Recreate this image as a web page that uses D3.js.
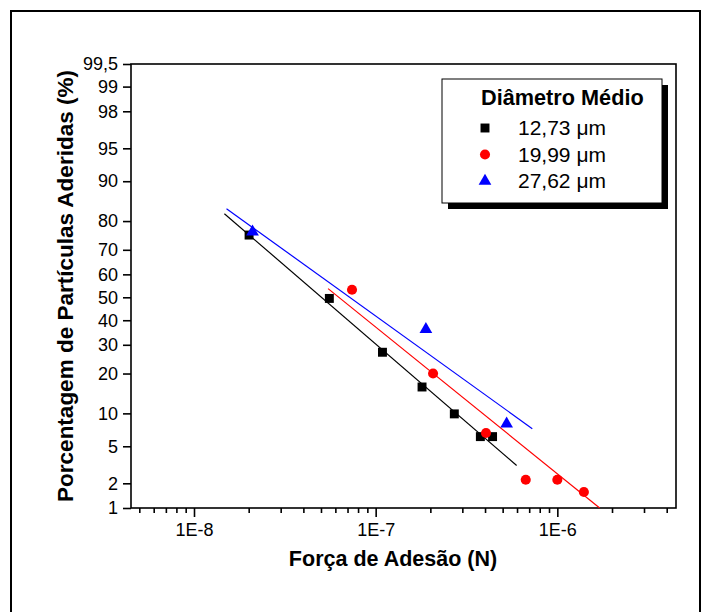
<!DOCTYPE html>
<html>
<head>
<meta charset="utf-8">
<script src="https://cdn.jsdelivr.net/npm/d3@7"></script>
<style>
  html, body { margin: 0; padding: 0; background: #fff; }
  svg { display: block; font-family: "Liberation Sans", Arial, sans-serif; }
</style>
</head>
<body>
<svg id="chart" width="705" height="612"></svg>
<script>
// Adhesion force (N) and cumulative percentage of adhered particles
const seriesNames = ["12,73 \u03bcm", "19,99 \u03bcm", "27,62 \u03bcm"];
const seriesColors = ["#000000", "#ff0000", "#0000ff"];
const seriesShapes = ["square", "circle", "triangle"];

const force1273 = [2.01e-8, 5.56e-8, 1.09e-7, 1.80e-7, 2.71e-7, 3.77e-7, 4.40e-7];
const pct1273   = [75.4, 49.5, 27.2, 16.1, 9.9, 6.2, 6.2];

const force1999 = [7.41e-8, 2.07e-7, 4.05e-7, 6.70e-7, 1.00e-6, 1.40e-6];
const pct1999   = [53.3, 20.0, 6.7, 2.2, 2.2, 1.58];

const force2762 = [2.10e-8, 1.89e-7, 5.26e-7];
const pct2762   = [76.5, 36.2, 8.1];

// Fitted straight lines on the probability / log plot: [force, percent] end points
const fit1273 = [[1.47e-8, 82.2], [5.97e-7, 3.17]];
const fit1999 = [[5.47e-8, 53.8], [1.71e-6, 1.0]];
const fit2762 = [[1.51e-8, 83.6], [7.28e-7, 7.35]];

const yTickPercents = [1, 2, 5, 10, 20, 30, 40, 50, 60, 70, 80, 90, 95, 98, 99, 99.5];
const xMajorTicks = [1e-8, 1e-7, 1e-6];
const xMajorLabels = ["1E-8", "1E-7", "1E-6"];
const xDomain = [4.5e-9, 4.5e-6];
const yDomainPct = [1, 99.5];

const legendTitle = "Di\u00e2metro M\u00e9dio";
const xTitle = "For\u00e7a de Ades\u00e3o (N)";
const yTitle = "Porcentagem de Part\u00edculas Aderidas (%)";

// Inverse standard normal CDF (Acklam's rational approximation)
function probit(p) {
  const a = [-3.969683028665376e+01, 2.209460984245205e+02, -2.759285104469687e+02,
             1.383577518672690e+02, -3.066479806614716e+01, 2.506628277459239e+00];
  const b = [-5.447609879822406e+01, 1.615858368580409e+02, -1.556989798598866e+02,
             6.680131188771972e+01, -1.328068155288572e+01];
  const c = [-7.784894002430293e-03, -3.223964580411365e-01, -2.400758277161838e+00,
             -2.549732539343734e+00, 4.374664141464968e+00, 2.938163982698783e+00];
  const d = [7.784695709041462e-03, 3.224671290700398e-01, 2.445134137142996e+00,
             3.754408661907416e+00];
  const pl = 0.02425, ph = 1 - pl;
  let q, r;
  if (p < pl) {
    q = Math.sqrt(-2 * Math.log(p));
    return (((((c[0]*q+c[1])*q+c[2])*q+c[3])*q+c[4])*q+c[5]) /
           ((((d[0]*q+d[1])*q+d[2])*q+d[3])*q+1);
  }
  if (p <= ph) {
    q = p - 0.5; r = q * q;
    return (((((a[0]*r+a[1])*r+a[2])*r+a[3])*r+a[4])*r+a[5])*q /
           (((((b[0]*r+b[1])*r+b[2])*r+b[3])*r+b[4])*r+1);
  }
  q = Math.sqrt(-2 * Math.log(1 - p));
  return -(((((c[0]*q+c[1])*q+c[2])*q+c[3])*q+c[4])*q+c[5]) /
          ((((d[0]*q+d[1])*q+d[2])*q+d[3])*q+1);
}

const svg = d3.select("#chart");
const plot = { left: 131, right: 676, top: 64, bottom: 508 };

const x = d3.scaleLog().domain(xDomain).range([plot.left, plot.right]);
const yz = d3.scaleLinear()
  .domain(yDomainPct.map(p => probit(p / 100)))
  .range([plot.bottom, plot.top]);
const y = p => yz(probit(p / 100));

// Page frame
svg.append("path")
  .attr("d", `M11,612 V11 H700 V612`)
  .attr("fill", "none").attr("stroke", "#000").attr("stroke-width", 2);

// Plot frame
svg.append("rect")
  .attr("x", plot.left).attr("y", plot.top)
  .attr("width", plot.right - plot.left).attr("height", plot.bottom - plot.top)
  .attr("fill", "none").attr("stroke", "#000").attr("stroke-width", 1.6);

// X axis: major and minor log ticks
const xMinor = [];
for (let e = -9; e <= -6; e++) {
  for (let k = 2; k <= 9; k++) {
    const v = k * Math.pow(10, e);
    if (v >= xDomain[0] && v <= xDomain[1]) xMinor.push(v);
  }
}
const gxMinor = svg.append("g").attr("transform", `translate(0,${plot.bottom})`)
  .call(d3.axisBottom(x).tickValues(xMinor).tickSize(5).tickFormat(""));
const gx = svg.append("g").attr("transform", `translate(0,${plot.bottom})`)
  .call(d3.axisBottom(x).tickValues(xMajorTicks).tickSize(9).tickPadding(6)
        .tickFormat((d, i) => xMajorLabels[i]));
[gxMinor, gx].forEach(g => {
  g.select(".domain").remove();
  g.selectAll(".tick line").attr("stroke", "#000").attr("stroke-width", 1.6);
});
gx.selectAll(".tick text")
  .attr("fill", "#000").attr("font-size", 18)
  .attr("font-family", "Liberation Sans, Arial, sans-serif");

// Y axis: normal probability scale
const gy = svg.append("g").attr("transform", `translate(${plot.left},0)`)
  .call(d3.axisLeft(yz).tickValues(yTickPercents.map(p => probit(p / 100)))
        .tickSize(8).tickPadding(5)
        .tickFormat((d, i) => String(yTickPercents[i]).replace(".", ",")));
gy.select(".domain").remove();
gy.selectAll(".tick line").attr("stroke", "#000").attr("stroke-width", 1.6);
gy.selectAll(".tick text")
  .attr("fill", "#000").attr("font-size", 18)
  .attr("font-family", "Liberation Sans, Arial, sans-serif");

// Axis titles
svg.append("text")
  .attr("x", 393).attr("y", 566)
  .attr("text-anchor", "middle").attr("font-weight", "bold").attr("font-size", 21.5)
  .text(xTitle);
svg.append("text")
  .attr("transform", `translate(73,${(plot.top + plot.bottom) / 2}) rotate(-90)`)
  .attr("text-anchor", "middle").attr("font-weight", "bold").attr("font-size", 22.5)
  .text(yTitle);

// Fitted lines
const line = d3.line().x(d => x(d[0])).y(d => y(d[1]));
[fit1273, fit1999, fit2762].forEach((f, i) => {
  svg.append("path").attr("d", line(f))
    .attr("fill", "none").attr("stroke", seriesColors[i]).attr("stroke-width", 1.2);
});

// Markers
const symSize = { square: 80, circle: 80, triangle: 70 };
const symType = { square: d3.symbolSquare, circle: d3.symbolCircle, triangle: d3.symbolTriangle };
function marker(g, shape, color, cx, cy) {
  g.append("path")
    .attr("d", d3.symbol().type(symType[shape]).size(symSize[shape])())
    .attr("transform", `translate(${cx},${cy})`)
    .attr("fill", color);
}
const series = [[force1273, pct1273], [force1999, pct1999], [force2762, pct2762]];
const gm = svg.append("g");
series.forEach(([fx, py], i) => {
  fx.forEach((f, j) => marker(gm, seriesShapes[i], seriesColors[i], x(f), y(py[j])));
});

// Legend with drop shadow
const lg = { x: 442, y: 79, w: 220, h: 124, off: 6 };
svg.append("rect")
  .attr("x", lg.x + lg.off).attr("y", lg.y + lg.off).attr("width", lg.w).attr("height", lg.h)
  .attr("fill", "#000");
svg.append("rect")
  .attr("x", lg.x).attr("y", lg.y).attr("width", lg.w).attr("height", lg.h)
  .attr("fill", "#fff").attr("stroke", "#000").attr("stroke-width", 1);
svg.append("text")
  .attr("x", lg.x + 39).attr("y", lg.y + 26)
  .attr("font-weight", "bold").attr("font-size", 21.7)
  .text(legendTitle);
seriesNames.forEach((name, i) => {
  const ry = lg.y + 49 + i * 26.5;
  marker(svg, seriesShapes[i], seriesColors[i], lg.x + 43, ry);
  svg.append("text")
    .attr("x", lg.x + 76).attr("y", ry + 7)
    .attr("font-size", 21)
    .text(name);
});
</script>
</body>
</html>
